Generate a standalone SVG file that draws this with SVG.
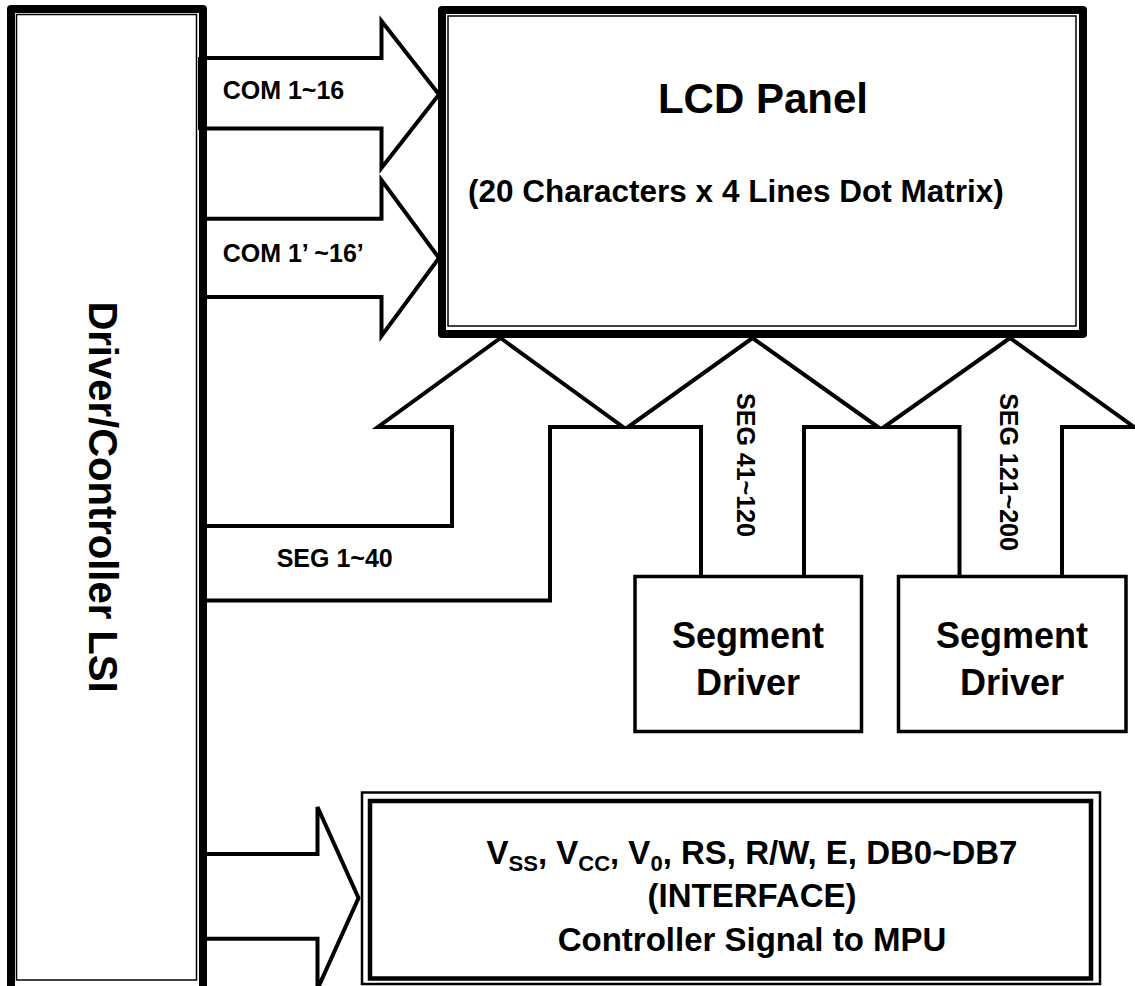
<svg xmlns="http://www.w3.org/2000/svg" width="1135" height="986" viewBox="0 0 1135 986">
<style>
.bg{fill:#fff}
.thick{fill:#fff;stroke:#000;stroke-width:8;stroke-linejoin:round}
.thin{fill:none;stroke:#000;stroke-width:1.5}
.arr{fill:#fff;stroke:#000;stroke-width:4;stroke-linejoin:miter;stroke-miterlimit:4}
.box{fill:#fff;stroke:#000;stroke-width:3.5}
.t{font-family:"Liberation Sans",Arial,sans-serif;font-weight:bold;fill:#000}
.lbl{font-size:25px}
.seg{font-size:36px;text-anchor:middle}
.ifc{font-size:33px;text-anchor:middle}
</style>
<rect class="bg" x="0" y="0" width="1135" height="986"/>
<g id="connectors">
  <polyline class="arr" points="207,58 381.5,58 381.5,21 439,94.5 381.5,168 381.5,128.5 207,128.5"/>
  <polyline class="arr" points="207,218.7 381.5,218.7 381.5,180 439,258 381.5,336 381.5,297 207,297"/>
  <polyline class="arr" points="207,526 452,526 452,427 378,427 500.5,338 623,427 550,427 550,600.5 207,600.5"/>
  <polyline class="arr" points="701,576.5 701,427 628,427 752.5,338 878,427 804,427 804,576.5"/>
  <polyline class="arr" points="959.5,576.5 959.5,427 884,427 1010,338 1134,427 1062,427 1062,576.5"/>
  <polyline class="arr" points="207,854 317.5,854 317.5,807 358.5,898 317.5,989 317.5,938.7 207,938.7"/>
  <text class="t lbl" x="222.7" y="99">COM 1~16</text>
  <text class="t lbl" x="222.7" y="262">COM 1’ ~16’</text>
  <text class="t lbl" x="276.7" y="567">SEG 1~40</text>
  <text class="t lbl" text-anchor="middle" transform="translate(737,465) rotate(90)">SEG 41~120</text>
  <text class="t lbl" text-anchor="middle" transform="translate(1000,472) rotate(90)">SEG 121~200</text>
</g>
<g id="controller">
  <rect class="thick" x="11" y="9" width="192" height="985" style="fill:none"/>
  <rect class="thin" x="16.5" y="14.5" width="180" height="965.5"/>
  <rect x="198" y="57" width="9" height="73" fill="#000"/>
  <text class="t" font-size="40" text-anchor="middle" transform="translate(89,497) rotate(90)">Driver/Controller LSI</text>
</g>
<g id="lcd">
  <rect class="thick" x="442" y="10" width="641" height="324"/>
  <rect class="thin" x="448" y="16" width="628" height="310"/>
  <text class="t" font-size="42" x="763" y="113" text-anchor="middle">LCD Panel</text>
  <text class="t" font-size="31.5" x="468" y="202">(20 Characters x 4 Lines Dot Matrix)</text>
</g>
<g id="segdrv1">
  <rect class="box" x="635" y="576.5" width="226.5" height="155"/>
  <text class="t seg" x="748" y="648">Segment</text>
  <text class="t seg" x="748" y="695">Driver</text>
</g>
<g id="segdrv2">
  <rect class="box" x="898.5" y="576.5" width="227.5" height="155"/>
  <text class="t seg" x="1012" y="648">Segment</text>
  <text class="t seg" x="1012" y="695">Driver</text>
</g>
<g id="interface">
  <rect x="362" y="792.5" width="738" height="191.5" fill="#fff" stroke="#000" stroke-width="2.5"/>
  <rect x="370" y="801" width="721" height="177.5" fill="none" stroke="#000" stroke-width="4.5"/>
  <text class="t ifc" x="752" y="864">V<tspan font-size="22" dy="7">SS</tspan><tspan dy="-7">, V</tspan><tspan font-size="22" dy="7">CC</tspan><tspan dy="-7">, V</tspan><tspan font-size="22" dy="7">0</tspan><tspan dy="-7">, RS, R/W, E, DB0~DB7</tspan></text>
  <text class="t ifc" x="752" y="907">(INTERFACE)</text>
  <text class="t ifc" x="752" y="951">Controller Signal to MPU</text>
</g>
</svg>
